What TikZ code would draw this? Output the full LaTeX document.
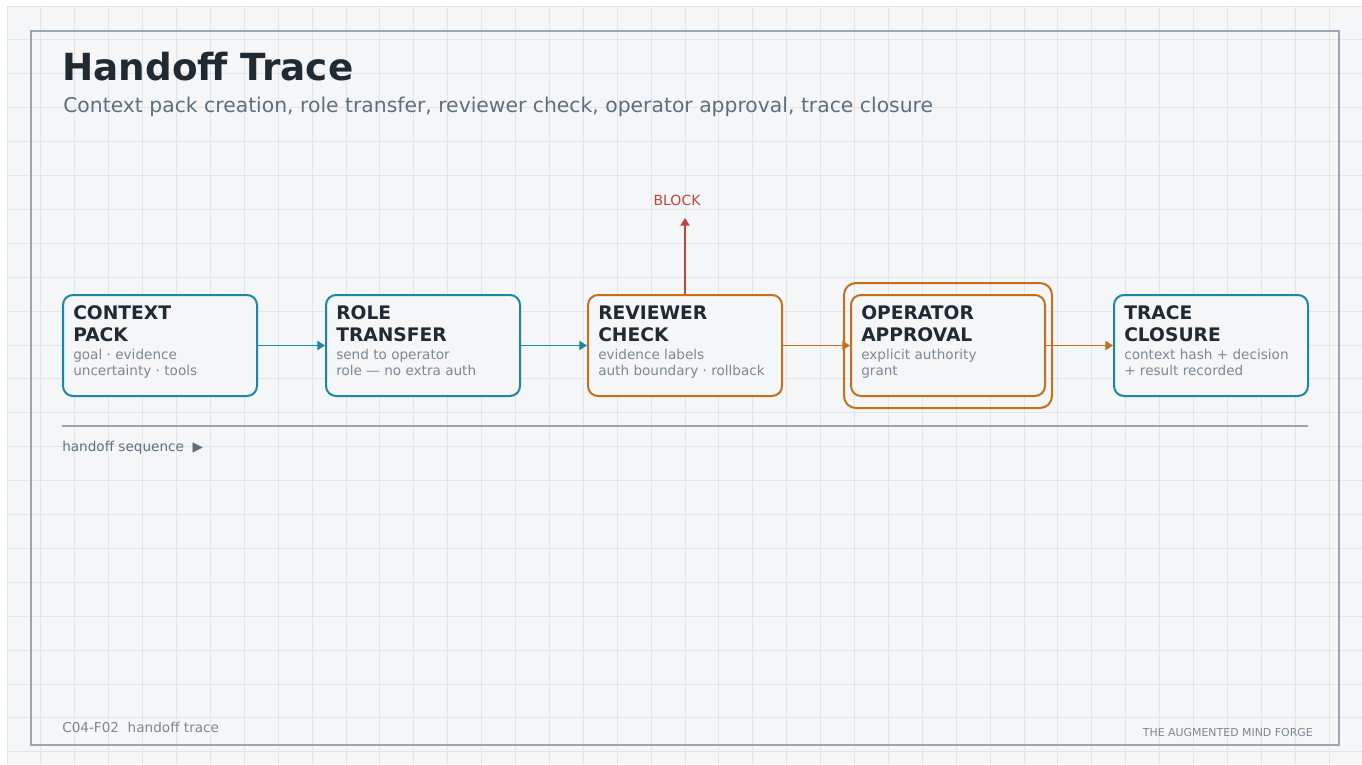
\documentclass[tikz,border=0pt]{standalone}
\usepackage{fontspec}
\setmainfont{DejaVu Sans}
\usetikzlibrary{arrows.meta,calc}

\definecolor{paper}{HTML}{FFFFFF}
\definecolor{bg}{HTML}{F4F6F8}
\definecolor{gridc}{HTML}{DFE6EA}
\definecolor{ink}{HTML}{1F2A33}
\definecolor{subink}{HTML}{5E6F7C}
\definecolor{muted}{HTML}{7C8891}
\definecolor{framec}{HTML}{9AA6AF}
\definecolor{tealc}{HTML}{1C86A6}
\definecolor{amberc}{HTML}{C2701C}
\definecolor{alertc}{HTML}{C0443A}

\tikzset{
  stage/.style={draw, fill=bg, line width=1.5pt, rounded corners=7.5pt,
    minimum width=145.5pt, minimum height=75.75pt, inner sep=0pt},
  stagetitle/.style={anchor=base west, inner sep=0pt, text=ink,
    font=\fontsize{14}{16}\selectfont\bfseries},
  stagenote/.style={anchor=base west, inner sep=0pt, text=muted,
    font=\fontsize{10.2}{12}\selectfont},
  flow/.style={line width=1.15pt, -{Triangle[length=5.8pt,width=7pt]}},
}

% four text lines inside a stage box: two title lines, two note lines
\newcommand{\stagetext}[5]{%
  \node[stagetitle] (#1-t1) at ($(#1.north west)+(11,25.7)$) {#2};
  \node[stagetitle] (#1-t2) at ($(#1.north west)+(11,47.3)$) {#3};
  \node[stagenote]  (#1-n1) at ($(#1.north west)+(11,65)$) {#4};
  \node[stagenote]  (#1-n2) at ($(#1.north west)+(11,81.7)$) {#5};
}

\begin{document}
\begin{tikzpicture}[x=0.75pt,y=-0.75pt]
  % canvas and grid
  \fill[paper] (0,0) rectangle (1362,764);
  \useasboundingbox (0,0) rectangle (1362,764);
  \fill[bg] (7,6) rectangle (1362,764);
  \foreach \i in {0,...,39}
    \draw[gridc, line width=0.75pt] ({7+33.9*\i},6) -- ({7+33.9*\i},764);
  \foreach \j in {0,...,22}
    \draw[gridc, line width=0.75pt] (7,{6+33.9*\j}) -- (1362,{6+33.9*\j});

  % outer frame
  \draw[framec, line width=1.5pt] (31,31) rectangle (1339,745);

  % heading
  \node[anchor=base west, inner sep=0pt, text=ink,
        font=\fontsize{28}{32}\selectfont\bfseries] (title) at (62,80) {Handoff Trace};
  \node[anchor=base west, inner sep=0pt, text=subink,
        font=\fontsize{15.25}{18}\selectfont] (subtitle) at (63,112)
        {Context pack creation, role transfer, reviewer check, operator approval, trace closure};

  % stages
  \node[stage, draw=tealc]  (cp) at (160,345.5) {};
  \node[stage, draw=tealc]  (rt) at (423,345.5) {};
  \node[stage, draw=amberc] (rc) at (685,345.5) {};
  \node[stage, draw=amberc, fill=none, minimum width=156pt, minimum height=93.75pt,
        rounded corners=9pt] (oaring) at (948,345.5) {};
  \node[stage, draw=amberc] (oa) at (948,345.5) {};
  \node[stage, draw=tealc]  (tc) at (1211,345.5) {};

  \stagetext{cp}{CONTEXT}{PACK}{goal · evidence}{uncertainty · tools}
  \stagetext{rt}{ROLE}{TRANSFER}{send to operator}{role — no extra auth}
  \stagetext{rc}{REVIEWER}{CHECK}{evidence labels}{auth boundary · rollback}
  \stagetext{oa}{OPERATOR}{APPROVAL}{explicit authority}{grant}
  \stagetext{tc}{TRACE}{CLOSURE}{context hash + decision}{+ result recorded}

  % connectors
  \draw[flow, tealc]  (cp.east) -- (rt.west);
  \draw[flow, tealc]  (rt.east) -- (rc.west);
  \draw[flow, amberc] (rc.east) -- (oa.west);
  \draw[flow, amberc] (oa.east) -- (tc.west);

  % block exit
  \node[inner sep=0pt, text=alertc, font=\fontsize{10.5}{12}\selectfont] (block) at (677,200) {BLOCK};
  \coordinate (blockend) at (685,218);
  \draw[flow, alertc] (rc.north) -- (blockend);

  % sequence rule
  \coordinate (ruleA) at (62,426);
  \coordinate (ruleB) at (1308,426);
  \draw[framec, line width=1.1pt] (ruleA) -- (ruleB);
  \node[anchor=base west, inner sep=0pt, text=subink,
        font=\fontsize{10.2}{12}\selectfont] (seq) at (62,451) {handoff sequence ~▶};

  % footer
  \node[anchor=base west, inner sep=0pt, text=muted,
        font=\fontsize{10.2}{12}\selectfont] (code) at (62,732) {C04-F02~~handoff trace};
  \node[anchor=base east, inner sep=0pt, text=muted,
        font=\fontsize{8.2}{10}\selectfont] (forge) at (1313,736) {THE AUGMENTED MIND FORGE};
\end{tikzpicture}
\end{document}
